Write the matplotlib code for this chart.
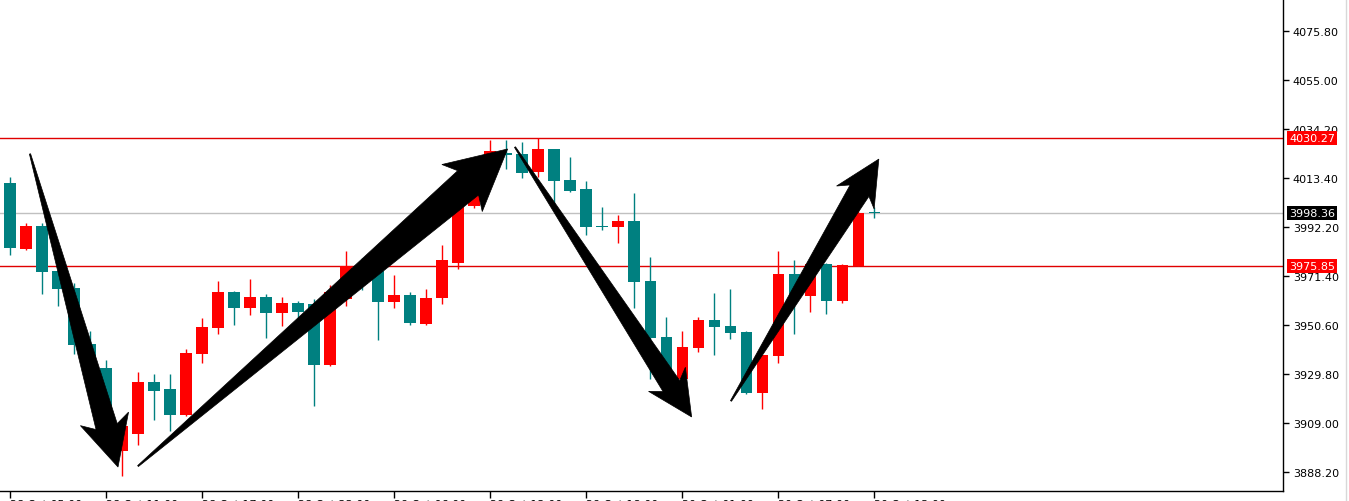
import numpy as np
import matplotlib
matplotlib.use("Agg")
import matplotlib.pyplot as plt
from matplotlib.patches import Polygon
from matplotlib.lines import Line2D

# hourly candles
opens = [4011.1, 3983.0, 3992.8, 3973.7, 3966.5, 3942.6, 3932.4, 3897.1, 3904.3, 3926.5,
         3923.5, 3912.4, 3938.4, 3949.4, 3964.8, 3957.9, 3962.6, 3955.8, 3960.1, 3959.6,
         3933.7, 3961.8, 3975.4, 3973.7, 3960.5, 3963.5, 3951.1, 3962.2, 3977.1, 4001.3,
         4013.7, 4023.9, 4023.5, 4015.8, 4025.6, 4012.4, 4008.6, 3992.6, 3992.4, 3995.0,
         3969.4, 3945.6, 3927.8, 3940.9, 3952.8, 3950.3, 3947.7, 3921.8, 3937.5, 3972.4,
         3963.0, 3976.7, 3960.9, 3975.8, 3998.36]
highs = [4013.7, 3994.1, 3994.1, 3974.5, 3968.6, 3948.2, 3935.8, 3910.7, 3930.7, 3929.9,
         3929.9, 3940.5, 3953.7, 3969.4, 3965.2, 3970.3, 3963.9, 3962.6, 3961.0, 3961.8,
         3967.8, 3982.2, 3979.2, 3976.7, 3972.0, 3964.8, 3966.0, 3984.7, 4004.3, 4016.2,
         4029.4, 4029.4, 4028.6, 4030.3, 4025.6, 4022.2, 4011.9, 4000.9, 3997.6, 4006.9,
         3979.7, 3954.1, 3948.2, 3954.1, 3964.3, 3966.0, 3948.2, 3938.0, 3982.2, 3978.4,
         3977.9, 3977.1, 3976.7, 4000.1, 4001.0]
lows = [3980.5, 3982.6, 3963.9, 3958.8, 3938.4, 3925.6, 3898.8, 3886.5, 3899.7, 3910.3,
        3905.6, 3912.0, 3934.5, 3946.9, 3950.7, 3955.0, 3945.2, 3950.3, 3949.0, 3916.3,
        3933.3, 3958.8, 3965.6, 3944.3, 3957.9, 3950.7, 3950.7, 3959.6, 3974.5, 4000.5,
        4011.0, 4017.1, 4013.3, 4013.7, 4002.2, 4007.3, 3989.0, 3991.1, 3985.6, 3958.0,
        3927.8, 3927.8, 3924.4, 3939.2, 3937.9, 3944.8, 3921.4, 3915.0, 3934.5, 3946.9,
        3956.2, 3955.4, 3960.1, 3975.8, 3996.2]
closes = [3983.5, 3992.8, 3973.3, 3966.0, 3942.2, 3931.1, 3900.1, 3907.8, 3926.5, 3922.6,
          3912.4, 3938.8, 3949.9, 3964.8, 3957.9, 3962.6, 3955.8, 3960.1, 3956.2, 3933.7,
          3964.8, 3975.8, 3968.1, 3960.5, 3963.5, 3951.6, 3962.2, 3978.4, 4001.3, 4013.7,
          4024.7, 4023.0, 4015.4, 4025.6, 4011.9, 4007.7, 3992.4, 3992.2, 3995.0, 3969.0,
          3945.2, 3928.6, 3941.4, 3952.8, 3949.9, 3947.3, 3921.8, 3938.0, 3972.4, 3962.6,
          3976.7, 3960.9, 3976.2, 3998.4, 3998.36]

time_labels = ["28 Oct 05:00", "28 Oct 11:00", "28 Oct 17:00", "28 Oct 23:00",
               "29 Oct 06:00", "29 Oct 12:00", "29 Oct 18:00", "30 Oct 01:00",
               "30 Oct 07:00", "30 Oct 13:00"]
price_ticks = [4075.80, 4055.00, 4034.20, 4013.40, 3992.20, 3971.40, 3950.60,
               3929.80, 3909.00, 3888.20]

resistance = 4030.27
support = 3975.85
last_price = 3998.36

# hand drawn arrows: (tail index, tail price, tip index, tip price, head len, head half w, neck half w)
arrows = [
    (1.25, 4023.5, 6.75, 3890.3, 50, 25, 11),
    (8.0, 3890.7, 31.1, 4025.6, 60, 31, 16),
    (31.56, 4026.4, 42.6, 3911.6, 45, 22, 10),
    (45.06, 3918.4, 54.3, 4021.3, 45, 22, 11),
]

UP = "#ff0000"
DOWN = "#008080"

W, H = 1349, 502
fig = plt.figure(figsize=(W / 100, H / 100), dpi=100)
ax = fig.add_axes([0, 10 / H, 1283 / W, 492 / H])

x = np.arange(len(opens))
o = np.array(opens)
c = np.array(closes)
cols = [UP if cc > oo else DOWN for oo, cc in zip(o, c)]

ax.vlines(x, lows, highs, colors=cols, lw=1, zorder=2)
body = np.maximum(np.abs(c - o), 0.45)
ax.bar(x, body, bottom=np.minimum(o, c), width=0.69, color=cols, lw=0, zorder=3)

ax.axhline(resistance, color="#e00000", lw=1, zorder=1)
ax.axhline(support, color="#e00000", lw=1, zorder=1)
ax.axhline(last_price, color="#c0c0c0", lw=1, zorder=1)

ax.set_xlim(-0.625, 79.56)
ax.set_ylim(3880.1, 4089.4)

ax.yaxis.tick_right()
ax.set_yticks(price_ticks)
ax.set_yticklabels(["%.2f" % p for p in price_ticks])
ax.tick_params(axis="y", direction="out", length=4, width=1, pad=3, labelsize=8, colors="black")
ax.set_xticks(x[::6])
ax.set_xticklabels(time_labels, ha="left")
ax.tick_params(axis="x", direction="out", length=5, width=1, pad=1, labelsize=8)

for s in ["left", "top"]:
    ax.spines[s].set_visible(False)
for s in ["right", "bottom"]:
    ax.spines[s].set_color("black")
    ax.spines[s].set_linewidth(1)

# price tags on the right scale
for val, bg in [(resistance, "#ff0000"), (last_price, "black"), (support, "#ff0000")]:
    ax.text(1 + 6 / 1283, val, "%.2f" % val, transform=ax.get_yaxis_transform(),
            ha="left", va="center", fontsize=8, color="white", zorder=5, clip_on=False,
            bbox=dict(boxstyle="square,pad=0.2", fc=bg, ec="none"))

# arrows, built in pixel space then brought back to data space
fig.canvas.draw()
to_pix = ax.transData.transform
to_data = ax.transData.inverted().transform
for tx, ty, px, py, hl, hw, sw in arrows:
    T = to_pix((tx, ty))
    P = to_pix((px, py))
    d = P - T
    u = d / np.hypot(*d)
    n = np.array([-u[1], u[0]])
    N = P - u * hl
    B = N + u * 8
    pts = [T + n * 0.6, B + n * sw, N + n * hw, P, N - n * hw, B - n * sw, T - n * 0.6]
    ax.add_patch(Polygon(to_data(np.array(pts)), closed=True, fc="black", ec="black",
                         lw=0.5, zorder=6, clip_on=False))

fig.add_artist(Line2D([1345.5 / W] * 2, [0, 1], color="#d8d8d8", lw=1))

fig.savefig("out.png", dpi=100, facecolor="white")
